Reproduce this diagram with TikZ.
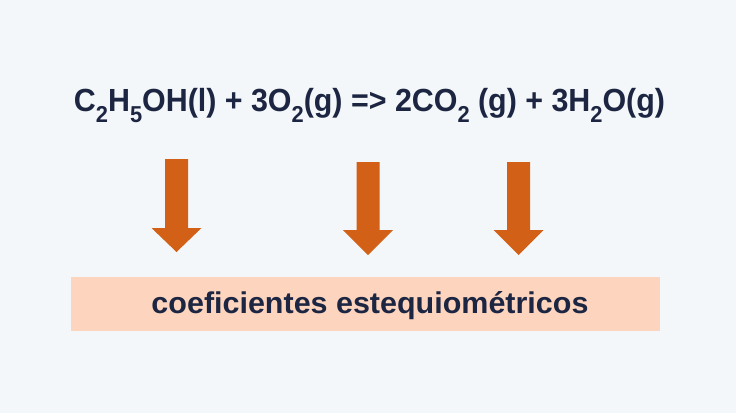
\documentclass[tikz,border=0pt]{standalone}
\usepackage{fontspec}
\setmainfont{Liberation Sans}
\definecolor{bg}{HTML}{F4F7F9}
\definecolor{ink}{HTML}{1C2541}
\definecolor{arr}{HTML}{D26016}
\definecolor{peach}{HTML}{FDD5BE}
\newcommand{\chs}[1]{\raisebox{-11pt}{\fontsize{23}{23}\selectfont #1}}
\tikzset{
  bigarrow/.style={fill=arr, draw=none},
  label/.style={text=ink, font=\bfseries, inner sep=0pt}
}
\begin{document}
\begin{tikzpicture}[x=1pt,y=-1pt]
\fill[bg] (0,0) rectangle (736,413);
\useasboundingbox (0,0) rectangle (736,413);
\node[label, font=\bfseries\fontsize{32}{32}\selectfont, anchor=base] (eq) at (369.5,111)
  {\scalebox{0.95}[1]{C\chs{2}H\chs{5}OH(l) + 3O\chs{2}(g) => 2CO\chs{2} (g) + 3H\chs{2}O(g)}};
\node[fill=peach, minimum width=589pt, minimum height=54pt, inner sep=0pt] (box) at (365.5,304) {};
\node[label, font=\bfseries\fontsize{30}{30}\selectfont, anchor=base] (txt) at (370,313) {\scalebox{1.016}[1]{coeficientes estequiométricos}};
\foreach \n/\x/\t/\h/\b in {a1/176.5/159/228/252, a2/368/162/230/255, a3/518.5/162/230/255}{
  \fill[bigarrow] (\x-11.5,\t) -- (\x+11.5,\t) -- (\x+11.5,\h) -- (\x+25,\h) -- (\x,\b) -- (\x-25,\h) -- (\x-11.5,\h) -- cycle;
}
\end{tikzpicture}
\end{document}
